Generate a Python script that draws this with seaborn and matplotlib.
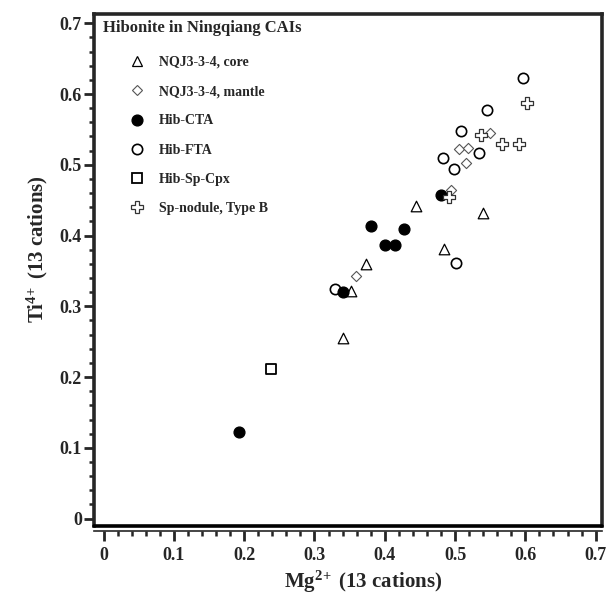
import pandas as pd
import matplotlib
matplotlib.use("Agg")
import matplotlib.pyplot as plt
from matplotlib.lines import Line2D
from matplotlib.ticker import MultipleLocator
import seaborn as sns

# Mg2+ / Ti4+ per 13 cations
core_x = [0.444, 0.540, 0.484, 0.374, 0.352, 0.341]
core_y = [0.442, 0.432, 0.381, 0.360, 0.322, 0.255]
mantle_x = [0.550, 0.506, 0.518, 0.515, 0.494, 0.359]
mantle_y = [0.545, 0.522, 0.524, 0.502, 0.465, 0.343]
cta_x = [0.480, 0.380, 0.427, 0.400, 0.414, 0.341, 0.192]
cta_y = [0.457, 0.414, 0.409, 0.386, 0.387, 0.320, 0.123]
fta_x = [0.596, 0.546, 0.509, 0.534, 0.483, 0.499, 0.501, 0.329]
fta_y = [0.622, 0.578, 0.548, 0.516, 0.510, 0.494, 0.361, 0.324]
cpx_x = [0.238]
cpx_y = [0.212]
nod_x = [0.603, 0.537, 0.567, 0.591, 0.491]
nod_y = [0.587, 0.542, 0.529, 0.530, 0.455]

groups = ["NQJ3-3-4, core", "NQJ3-3-4, mantle", "Hib-CTA", "Hib-FTA",
          "Hib-Sp-Cpx", "Sp-nodule, Type B"]
xs = [core_x, mantle_x, cta_x, fta_x, cpx_x, nod_x]
ys = [core_y, mantle_y, cta_y, fta_y, cpx_y, nod_y]

df = pd.concat([pd.DataFrame({"Mg": x, "Ti": y, "group": g})
                for g, x, y in zip(groups, xs, ys)], ignore_index=True)

# marker, size, face, edge, linewidth
styles = {
    "NQJ3-3-4, core": ("^", 58, "white", "black", 0.9),
    "NQJ3-3-4, mantle": ("D", 27, "white", "#555555", 0.8),
    "Hib-CTA": ("o", 60, "black", "black", 1.0),
    "Hib-FTA": ("o", 55, "white", "black", 1.2),
    "Hib-Sp-Cpx": ("s", 62, "white", "black", 1.3),
    "Sp-nodule, Type B": ("P", 75, "white", "#333333", 0.9),
}
draw_order = ["NQJ3-3-4, core", "Hib-FTA", "Hib-CTA", "NQJ3-3-4, mantle",
              "Hib-Sp-Cpx", "Sp-nodule, Type B"]

sns.set_style("ticks")
serif = "Liberation Serif"
plt.rcParams["font.family"] = [serif, "DejaVu Serif"]
plt.rcParams["font.weight"] = "bold"
plt.rcParams["mathtext.fontset"] = "custom"
plt.rcParams["mathtext.rm"] = serif + ":bold"
plt.rcParams["mathtext.it"] = serif + ":bold"
plt.rcParams["mathtext.bf"] = serif + ":bold"

fig = plt.figure(figsize=(6.09, 5.97), dpi=100)
ax = fig.add_axes([0.155, 0.1194, 0.8335, 0.8571])

for g in draw_order:
    m, s, fc, ec, lw = styles[g]
    sns.scatterplot(data=df[df["group"] == g], x="Mg", y="Ti", marker=m, s=s,
                    color=fc, edgecolor=ec, linewidth=lw, ax=ax, legend=False,
                    zorder=3)

ax.set_xlim(-0.013, 0.709)
ax.set_ylim(-0.010, 0.713)

ax.xaxis.set_minor_locator(MultipleLocator(0.02))
ax.yaxis.set_minor_locator(MultipleLocator(0.02))
ax.set_xticks([0, 0.1, 0.2, 0.3, 0.4, 0.5, 0.6, 0.7])
ax.set_xticklabels(["0", "0.1", "0.2", "0.3", "0.4", "0.5", "0.6", "0.7"])
ax.set_yticks([0, 0.1, 0.2, 0.3, 0.4, 0.5, 0.6, 0.7])
ax.set_yticklabels(["0", "0.1", "0.2", "0.3", "0.4", "0.5", "0.6", "0.7"])

for side in ["top", "right", "left"]:
    ax.spines[side].set_linewidth(2.6)
ax.spines["bottom"].set_position(("outward", 4))
ax.spines["bottom"].set_linewidth(1.2)
# frame line along the bottom of the plotting area
ax.plot([0, 1], [0, 0], transform=ax.transAxes, color="black", lw=2.6,
        clip_on=False, zorder=4)

ax.tick_params(axis="both", which="major", direction="out", length=7, width=2,
               labelsize=13, pad=2)
ax.tick_params(axis="both", which="minor", direction="out", length=3.5, width=1.8)
ax.tick_params(axis="x", which="major", pad=4)

ax.set_xlabel(r"Mg$^{2\!+}$ (13 cations)", fontsize=15, fontweight="bold")
ax.set_ylabel(r"Ti$^{4\!+}$ (13 cations)", fontsize=15, fontweight="bold")
ax.xaxis.set_label_coords(0.53, -0.085)
ax.yaxis.set_label_coords(-0.088, 0.54)

ax.text(0.0177, 0.972, "Hibonite in Ningqiang CAIs", transform=ax.transAxes,
        ha="left", va="center", fontsize=12, fontweight="bold")

handles = []
for g in groups:
    m, s, fc, ec, lw = styles[g]
    handles.append(Line2D([], [], linestyle="none", marker=m,
                          markersize=s ** 0.5, markerfacecolor=fc,
                          markeredgecolor=ec, markeredgewidth=lw, label=g))
ax.legend(handles=handles, loc="upper left", bbox_to_anchor=(0.071, 0.918),
          frameon=False, handlelength=1.0, handletextpad=1.05,
          borderpad=0, borderaxespad=0, labelspacing=1.17,
          prop={"family": serif, "weight": "bold", "size": 10})

fig.savefig("out.png", dpi=100)
